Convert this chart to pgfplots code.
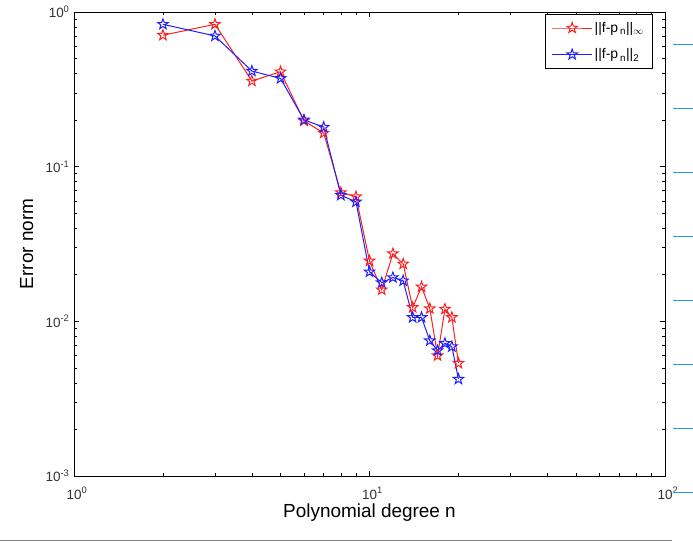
\documentclass[border=0pt]{standalone}
\usepackage{fontspec}
\setmainfont{Liberation Sans}
\usepackage{pgfplots}
\pgfplotsset{compat=1.18}
\pgfdeclareplotmark{pentagram}{%
  \pgfpathmoveto{\pgfpointpolar{90}{\pgfplotmarksize}}%
  \pgfpathlineto{\pgfpointpolar{126}{0.40\pgfplotmarksize}}%
  \pgfpathlineto{\pgfpointpolar{162}{\pgfplotmarksize}}%
  \pgfpathlineto{\pgfpointpolar{198}{0.40\pgfplotmarksize}}%
  \pgfpathlineto{\pgfpointpolar{234}{\pgfplotmarksize}}%
  \pgfpathlineto{\pgfpointpolar{270}{0.40\pgfplotmarksize}}%
  \pgfpathlineto{\pgfpointpolar{306}{\pgfplotmarksize}}%
  \pgfpathlineto{\pgfpointpolar{342}{0.40\pgfplotmarksize}}%
  \pgfpathlineto{\pgfpointpolar{18}{\pgfplotmarksize}}%
  \pgfpathlineto{\pgfpointpolar{54}{0.40\pgfplotmarksize}}%
  \pgfpathclose
  \pgfusepathqstroke
}
\definecolor{lineRed}{RGB}{255,30,30}
\definecolor{lineBlue}{RGB}{30,30,255}
\definecolor{sideBlue}{RGB}{40,150,240}
\begin{document}
\begin{tikzpicture}
\useasboundingbox (-74bp,-70bp) rectangle (619bp,476bp);
\begin{axis}[
  at={(0,0)}, anchor=south west,
  scale only axis,
  width=591bp, height=464bp,
  xmode=log, ymode=log,
  xmin=1, xmax=100, ymin=0.001, ymax=1,
  xtick={1,10,100},
  xticklabels={10\textsuperscript{0},10\textsuperscript{1},10\textsuperscript{2}},
  ytick={0.001,0.01,0.1,1},
  yticklabels={10\textsuperscript{-3},10\textsuperscript{-2},10\textsuperscript{-1},10\textsuperscript{0}},
  tick align=inside,
  major tick length=5bp, minor tick length=3bp,
  tick style={black, line width=0.6pt},
  axis line style={black, line width=0.9pt},
  ticklabel style={font=\fontsize{13.5}{15}\selectfont, text=black!80},
  xticklabel style={anchor=base, yshift=-23bp, xshift=3bp},
  yticklabel style={xshift=-1bp},
  xlabel={Polynomial degree n},
  ylabel={Error norm},
  label style={font=\fontsize{19}{22}\selectfont},
  xlabel style={at={(axis description cs:0.5,0)}, anchor=base, yshift=-41bp},
  ylabel style={at={(axis description cs:-0.080,0.5)}, anchor=center, rotate=0},
  legend style={at={(1,1)}, anchor=north east, xshift=-13bp, yshift=-2bp,
    font=\fontsize{14}{16}\selectfont, row sep=11bp, inner xsep=6bp, inner ysep=6bp},
  legend cell align=left,
  legend image code/.code={%
    \draw[mark repeat=2, mark phase=2, #1] plot coordinates {(0bp,0bp) (20bp,0bp) (40bp,0bp)};},
  every axis plot/.append style={line width=1pt, mark=pentagram, mark size=5.5bp, mark options={solid, line width=1pt}},
]
\addplot[color=lineRed, draw=lineRed] coordinates {
(2,0.708) (3,0.833) (4,0.358) (5,0.411) (6,0.198) (7,0.165) (8,0.068) (9,0.064)
(10,0.0246) (11,0.016) (12,0.0274) (13,0.0235) (14,0.0123) (15,0.0167) (16,0.0121)
(17,0.0060) (18,0.0120) (19,0.0106) (20,0.00536)
};
\addlegendentry{||f-p\textsubscript{\hspace{2bp}n}||\textsubscript{$\infty$}}
\addplot[color=lineBlue, draw=lineBlue] coordinates {
(2,0.833) (3,0.70) (4,0.415) (5,0.372) (6,0.201) (7,0.180) (8,0.0654) (9,0.0592)
(10,0.0209) (11,0.0178) (12,0.0192) (13,0.0183) (14,0.0106) (15,0.0106) (16,0.0075)
(17,0.00647) (18,0.00721) (19,0.00686) (20,0.00423)
};
\addlegendentry{||f-p\textsubscript{\hspace{2bp}n}||\textsubscript{2}}
\end{axis}
\draw[gray, line width=1pt] (-74bp,-64bp) -- (598bp,-64bp);
\foreach \yy in {431.7,367.7,303.7,239.3,175.3,111.7,47.7,-16.3}
  \draw[sideBlue, line width=0.9pt] (599bp,\yy bp) -- (619bp,\yy bp);
\end{tikzpicture}
\end{document}
